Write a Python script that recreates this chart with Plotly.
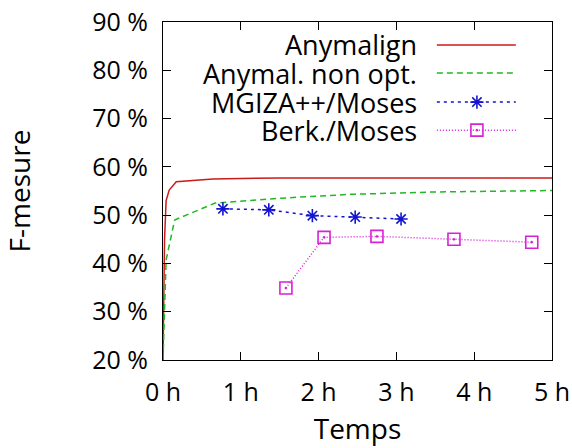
import plotly.graph_objects as go

# ---- data ----
t_any = [0, 0.02, 0.04, 0.08, 0.17, 0.64, 1.5, 3.0, 5.0]
f_any = [20, 45, 53, 55.2, 56.9, 57.5, 57.7, 57.7, 57.7]

t_nonopt = [0, 0.02, 0.04, 0.15, 0.67, 1.5, 2.4, 3.5, 5.0]
f_nonopt = [20, 33, 40.7, 49.0, 52.5, 53.5, 54.3, 54.8, 55.1]

t_mgiza = [0.77, 1.36, 1.92, 2.47, 3.06]
f_mgiza = [51.3, 51.1, 49.9, 49.6, 49.2]

t_berk = [1.58, 2.07, 2.75, 3.74, 4.74]
f_berk = [34.9, 45.4, 45.6, 45.0, 44.4]

names = ["Anymalign", "Anymal. non opt.", "MGIZA++/Moses", "Berk./Moses"]
colors = ["#cc1a1a", "#22b822", "#1414d0", "#d820d8"]
dashes = ["solid", "6px,4px", "3px,4px", "1px,2px"]
symbols = [None, None, "asterisk-open", "square-open-dot"]
msizes = [0, 0, 11, 12]

y_vals = [20, 30, 40, 50, 60, 70, 80, 90]
y_text = ["20 %", "30 %", "40 %", "50 %", "60 %", "70 %", "80 %", "90 %"]
x_vals = [0, 1, 2, 3, 4, 5]
x_text = ["0 h", "1 h", "2 h", "3 h", "4 h", "5 h"]

FONT = "Open Sans"
FS = 25

fig = go.Figure()
series = [(t_any, f_any), (t_nonopt, f_nonopt), (t_mgiza, f_mgiza), (t_berk, f_berk)]
for i, (tx, fy) in enumerate(series):
    mode = "lines+markers" if symbols[i] else "lines"
    kw = {}
    if symbols[i]:
        kw["marker"] = dict(symbol=symbols[i], size=msizes[i],
                            color=colors[i], line=dict(color=colors[i], width=1.6))
    fig.add_trace(go.Scatter(x=tx, y=fy, mode=mode, name=names[i],
                             line=dict(color=colors[i], width=1.5, dash=dashes[i]),
                             showlegend=False, **kw))

# ---- manual gnuplot-style legend (keys on hidden overlay axis) ----
rows = [0.932, 0.849, 0.763, 0.680]
kx0, kx1, kxm, tx_right = 0.704, 0.907, 0.807, 0.6555
for i in range(4):
    fig.add_trace(go.Scatter(x=[kx0, kx1], y=[rows[i], rows[i]], mode="lines",
                             xaxis="x2", yaxis="y2", showlegend=False, hoverinfo="skip",
                             line=dict(color=colors[i], width=1.5, dash=dashes[i])))
    if symbols[i]:
        fig.add_trace(go.Scatter(x=[kxm], y=[rows[i]], mode="markers",
                                 xaxis="x2", yaxis="y2", showlegend=False, hoverinfo="skip",
                                 marker=dict(symbol=symbols[i], size=msizes[i],
                                             color=colors[i], line=dict(color=colors[i], width=1.6))))
    fig.add_annotation(x=tx_right, y=rows[i], xref="paper", yref="paper", text=names[i],
                       showarrow=False, xanchor="right", yanchor="middle", borderpad=0,
                       font=dict(family=FONT, size=27, color="black"))

axis_common = dict(showline=True, linecolor="black", linewidth=1.2, mirror="ticks",
                   ticks="inside", ticklen=8, tickwidth=1.2, tickcolor="black",
                   showgrid=False, zeroline=False, automargin=False,
                   tickfont=dict(family=FONT, size=FS, color="black"))

fig.update_layout(
    width=572, height=448,
    margin=dict(l=163, r=20, t=22, b=88),
    paper_bgcolor="white", plot_bgcolor="white",
    xaxis=dict(range=[0, 5], tickvals=x_vals, ticktext=x_text,
               title=dict(text="Temps", font=dict(family=FONT, size=28, color="black"), standoff=12),
               ticklabelstandoff=10, **axis_common),
    yaxis=dict(range=[20, 90], tickvals=y_vals, ticktext=y_text,
               title=dict(text="F-mesure", font=dict(family=FONT, size=28, color="black"), standoff=58),
               ticklabelstandoff=9, **axis_common),
    xaxis2=dict(overlaying="x", range=[0, 1], visible=False),
    yaxis2=dict(overlaying="y", range=[0, 1], visible=False),
)

fig.write_html("out.html")
